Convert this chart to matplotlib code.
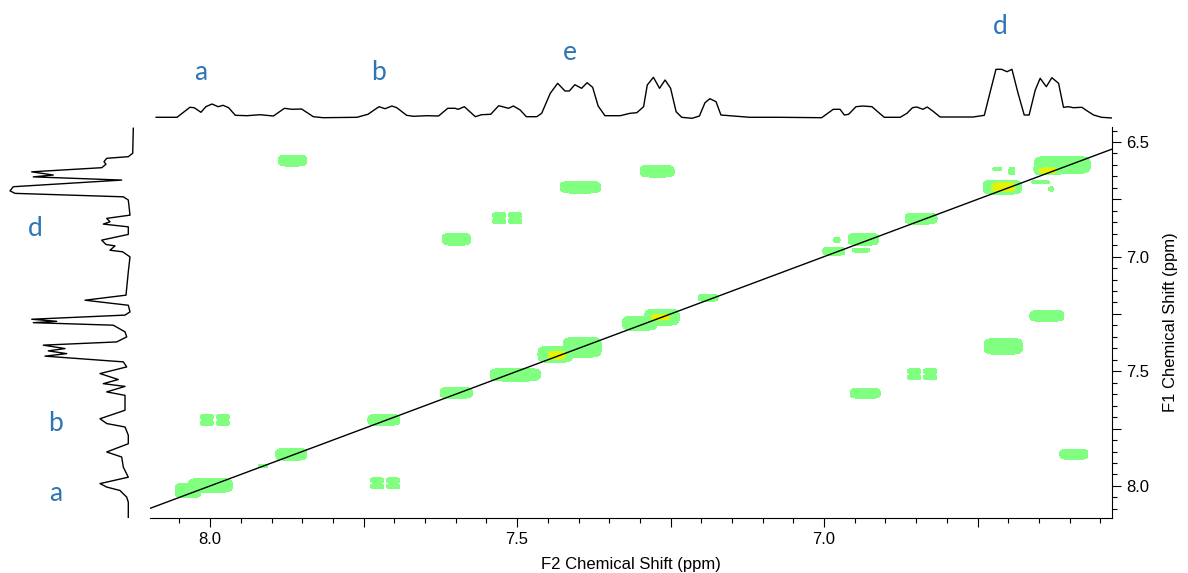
import numpy as np
import matplotlib
matplotlib.use('Agg')
import matplotlib.pyplot as plt
from matplotlib.ticker import MultipleLocator, FuncFormatter

# ---- 1D projection on top (F2 ppm, intensity) ----
top_ppm = [8.088, 8.054, 8.033, 8.026, 8.015, 8.007, 7.997, 7.987, 7.979, 7.970,
           7.959, 7.940, 7.919, 7.897, 7.879, 7.867, 7.851, 7.832, 7.816, 7.761,
           7.743, 7.725, 7.715, 7.704, 7.696, 7.680, 7.669, 7.647, 7.628, 7.613,
           7.601, 7.596, 7.586, 7.568, 7.558, 7.543, 7.530, 7.514, 7.506, 7.495,
           7.485, 7.468, 7.460, 7.446, 7.434, 7.422, 7.415, 7.406, 7.395, 7.386,
           7.377, 7.368, 7.357, 7.332, 7.316, 7.305, 7.294, 7.288, 7.278, 7.268,
           7.259, 7.250, 7.241, 7.232, 7.215, 7.203, 7.194, 7.186, 7.176, 7.168,
           7.148, 7.121, 7.072, 7.004, 6.985, 6.974, 6.967, 6.960, 6.948, 6.937,
           6.922, 6.914, 6.902, 6.876, 6.865, 6.856, 6.849, 6.839, 6.832, 6.823,
           6.811, 6.757, 6.739, 6.730, 6.720, 6.711, 6.702, 6.694, 6.684, 6.674,
           6.666, 6.656, 6.648, 6.638, 6.629, 6.618, 6.610, 6.602, 6.594, 6.580,
           6.572, 6.561, 6.548, 6.531]
top_int = [0.7, 0.7, 10.7, 10.3, 5.7, 11.3, 14.0, 11.3, 12.7, 10.3,
           2.7, 2.3, 3.3, 2.0, 9.7, 8.7, 9.0, 1.3, 0.3, 0.7,
           3.7, 11.3, 9.3, 12.0, 10.3, 2.7, 1.7, 2.3, 2.0, 9.7,
           9.7, 8.7, 11.3, 1.3, 3.3, 3.7, 12.3, 9.7, 12.0, 8.0,
           1.3, 1.3, 4.7, 24.7, 34.7, 27.0, 27.0, 33.3, 29.7, 35.3,
           30.7, 12.0, 2.3, 2.3, 4.7, 5.3, 11.3, 33.0, 40.7, 29.7,
           38.0, 29.7, 6.3, 0.7, -0.3, 2.0, 15.3, 19.3, 16.3, 3.0,
           2.0, 0.7, 0.7, 0.3, 8.7, 8.7, 3.0, 3.7, 11.3, 12.0,
           11.3, 7.0, 0.7, 0.7, 4.7, 10.3, 11.0, 8.7, 11.0, 7.0,
           1.0, 1.0, 2.7, 24.7, 48.7, 48.7, 46.3, 48.7, 24.7, 3.0,
           3.0, 28.0, 39.7, 31.3, 40.3, 34.7, 10.7, 11.3, 10.3, 10.7,
           7.3, 3.0, 0.7, 0.0]

# ---- 1D projection on the left (F1 ppm, intensity) ----
left_ppm = [6.440, 6.549, 6.564, 6.571, 6.586, 6.597, 6.612, 6.630, 6.644, 6.652,
            6.666, 6.695, 6.713, 6.724, 6.739, 6.753, 6.819, 6.833, 6.848, 6.858,
            6.870, 6.903, 6.928, 6.947, 6.953, 6.972, 6.979, 7.001, 7.066, 7.168,
            7.190, 7.212, 7.241, 7.255, 7.273, 7.282, 7.288, 7.299, 7.328, 7.350,
            7.372, 7.386, 7.401, 7.411, 7.423, 7.434, 7.459, 7.481, 7.510, 7.536,
            7.554, 7.566, 7.590, 7.605, 7.670, 7.707, 7.728, 7.743, 7.779, 7.816,
            7.852, 7.874, 7.918, 7.962, 7.990, 8.005, 8.020, 8.049, 8.071, 8.143]
left_int = [-0.3, 0.3, 4.7, 26.3, 29.0, 27.0, 31.3, 101.3, 79.7, 99.7,
            11.3, 119.7, 123.0, 118.0, 9.7, 4.7, 3.0, 26.3, 23.0, 29.7,
            4.7, 4.7, 31.3, 27.0, 18.0, 23.0, 10.3, 3.0, 4.7, 7.0,
            48.0, 4.7, 3.0, 8.0, 101.3, 76.3, 99.7, 19.7, 8.0, 6.3,
            16.3, 89.7, 68.0, 84.7, 66.3, 88.0, 9.7, 6.3, 33.0, 14.7,
            29.7, 8.0, 26.3, 8.0, 8.0, 33.0, 26.3, 8.0, 4.7, 4.7,
            26.3, 11.3, 9.7, 4.7, 33.0, 26.3, 13.0, 6.3, 4.7, 4.7]

# ---- 2D cross peaks: F2, F1, half width F2, half width F1 ----
pk_f2 = [7.866, 7.272, 7.397, 7.599, 6.842, 6.710, 6.637, 6.708, 7.599, 6.933,
         7.717, 7.868, 6.593, 6.936, 6.984, 6.979, 6.940, 7.189, 7.264, 7.300,
         7.394, 7.438, 7.503, 8.000, 8.036, 7.914, 6.612, 6.718, 6.694, 6.647,
         6.630]
pk_f1 = [6.581, 6.627, 6.697, 6.924, 6.834, 6.697, 7.258, 7.391, 7.594, 7.596,
         7.712, 7.862, 7.862, 6.924, 6.976, 6.928, 6.972, 7.179, 7.264, 7.290,
         7.395, 7.426, 7.515, 7.998, 8.020, 7.913, 6.600, 6.618, 6.627, 6.675,
         6.705]
pk_w2 = [0.0228, 0.0277, 0.0326, 0.0228, 0.026, 0.031, 0.0277, 0.031, 0.026, 0.0244,
         0.026, 0.025, 0.0228, 0.025, 0.018, 0.005, 0.014, 0.0163, 0.028, 0.028,
         0.031, 0.028, 0.041, 0.036, 0.021, 0.008, 0.0456, 0.0073, 0.005, 0.015,
         0.004]
pk_w1 = [0.024, 0.026, 0.026, 0.026, 0.024, 0.031, 0.024, 0.035, 0.024, 0.022,
         0.024, 0.026, 0.022, 0.026, 0.0175, 0.011, 0.009, 0.0153, 0.035, 0.031,
         0.044, 0.035, 0.028, 0.031, 0.031, 0.0066, 0.039, 0.0066, 0.015, 0.0066,
         0.009]

# strong centres (yellow)
hot_f2 = [6.707, 6.637, 7.267, 7.435]
hot_f1 = [6.697, 6.627, 7.264, 7.430]
hot_w2 = [0.018, 0.015, 0.014, 0.013]
hot_w1 = [0.018, 0.013, 0.011, 0.016]

# resolved doublet-of-doublet cross peaks
dd_f2 = [7.516, 6.840, 7.992, 7.715]
dd_f1 = [6.832, 7.513, 7.712, 7.989]
dd_j = 0.013
dd_w2 = 0.0106
dd_w1 = 0.0112

labels_top = [('a', 8.016, 46), ('b', 7.726, 46), ('e', 7.414, 66), ('d', 6.713, 91)]
labels_left = [('d', 98, 6.876), ('b', 77, 7.727), ('a', 77, 8.033)]

W, H = 1188, 573


def px_box(l, t, r, b):
    return [l / W, 1 - b / H, (r - l) / W, (b - t) / H]


def blob(X, Y, x0, y0, wx, wy):
    k = np.log(2) ** 0.25
    return np.exp(-(np.abs((X - x0) / (wx / k)) ** 4 + np.abs((Y - y0) / (wy / k)) ** 4))


plt.rcParams['font.family'] = ['Liberation Sans', 'DejaVu Sans']
fig = plt.figure(figsize=(11.88, 5.73), dpi=100)

ax = fig.add_axes(px_box(150, 127, 1112, 518))
ax_top = fig.add_axes(px_box(150, 10, 1112, 122))
ax_left = fig.add_axes(px_box(0, 127, 140, 518))

xlim = (8.098, 6.531)
ylim = (8.140, 6.4345)

gx = np.linspace(6.45, 8.2, 1400)
gy = np.linspace(6.40, 8.2, 800)
X, Y = np.meshgrid(gx, gy)
Z = np.zeros_like(X)
for i in range(len(pk_f2)):
    Z = np.maximum(Z, blob(X, Y, pk_f2[i], pk_f1[i], pk_w2[i], pk_w1[i]))
for i in range(len(dd_f2)):
    for sx in (-1, 1):
        for sy in (-1, 1):
            Z = np.maximum(Z, blob(X, Y, dd_f2[i] + sx * dd_j, dd_f1[i] + sy * dd_j, dd_w2, dd_w1))
for i in range(len(hot_f2)):
    Z += 1.1 * blob(X, Y, hot_f2[i], hot_f1[i], hot_w2[i], hot_w1[i])

ax.contourf(X, Y, Z, levels=[0.5, 1.35, 1.65, 100],
            colors=['#80ff80', '#c4f63c', '#e6f200'])
ax.plot([8.3, 6.3], [8.3, 6.3], color='black', lw=1)

ax.set_xlim(*xlim)
ax.set_ylim(*ylim)
ax.spines['top'].set_visible(False)
ax.spines['left'].set_visible(False)
ax.yaxis.tick_right()
ax.yaxis.set_label_position('right')

fmt = FuncFormatter(lambda v, p: '%.1f' % v if abs(v * 2 - round(v * 2)) < 1e-6 else '')
for a in (ax.xaxis, ax.yaxis):
    a.set_major_locator(MultipleLocator(0.25))
    a.set_minor_locator(MultipleLocator(0.05))
    a.set_major_formatter(fmt)
ax.tick_params(which='major', length=6.5, width=0.8, labelsize=12, direction='out')
ax.tick_params(which='minor', length=3.6, width=0.8, direction='out')
ax.set_xlabel('F2 Chemical Shift (ppm)', fontsize=12, labelpad=7)
ax.set_ylabel('F1 Chemical Shift (ppm)', fontsize=12, labelpad=10)

ax_top.plot(top_ppm, top_int, color='black', lw=1)
ax_top.set_xlim(*xlim)
ax_top.set_ylim(-4, 108)
ax_top.axis('off')
for t, x, y in labels_top:
    ax_top.text(x, y, t, color='#2e75b6', fontsize=19, family='Lato',
                ha='center', va='center')

ax_left.plot(left_int, left_ppm, color='black', lw=1)
ax_left.set_xlim(133, -7)
ax_left.set_ylim(*ylim)
ax_left.axis('off')
for t, x, y in labels_left:
    ax_left.text(x, y, t, color='#2e75b6', fontsize=19, family='Lato',
                 ha='center', va='center')

fig.savefig('out.png', dpi=100)
